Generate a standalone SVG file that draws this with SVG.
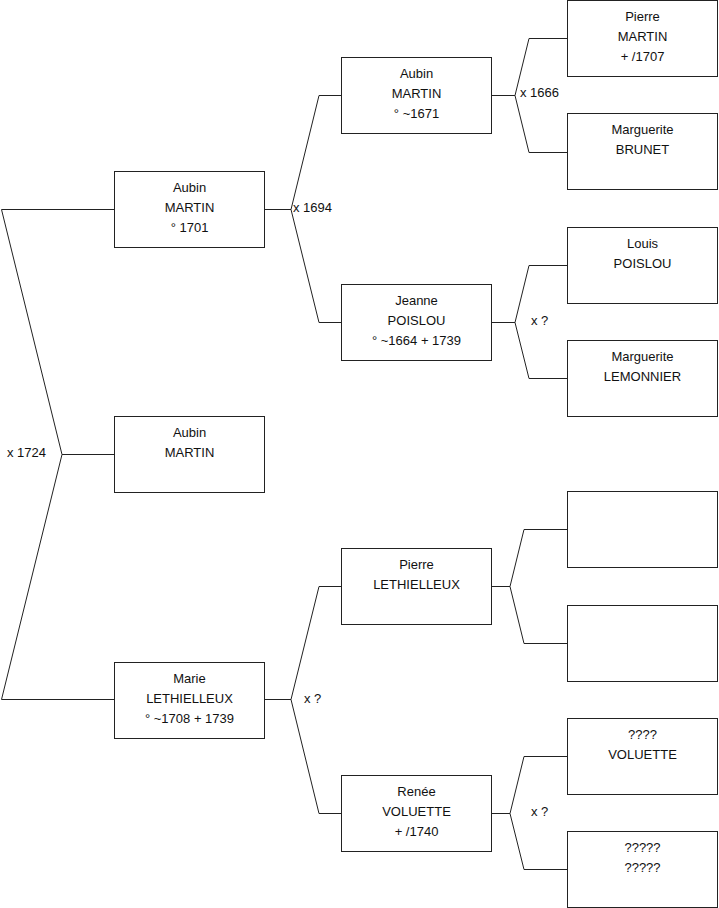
<svg xmlns="http://www.w3.org/2000/svg" width="719" height="908" viewBox="0 0 719 908">
<style>
.box{fill:#fff;stroke:#222;stroke-width:1}
.ln{fill:none;stroke:#222;stroke-width:1}
text{font-family:"Liberation Sans",Arial,sans-serif;font-size:13px;fill:#111}
.c{text-anchor:middle}
</style>
<rect width="719" height="908" fill="#fff"/>
<g id="connectors">
<path class="ln" d="M114,209.5H1.5L62,454.5L1.5,699.5H114M62,454.5H114"/>
<path class="ln" d="M265,209.5H291L319,95.5H341M291,209.5L319,322.5H341"/>
<path class="ln" d="M265,699.5H291L319,586.5H341M291,699.5L319,813.5H341"/>
<path class="ln" d="M492,95.5H515L529,38.5H567M515,95.5L529,152.5H567"/>
<path class="ln" d="M492,322.5H515L529,265.5H567M515,322.5L529,378.5H567"/>
<path class="ln" d="M492,586.5H510L524,529.5H567M510,586.5L524,643.5H567"/>
<path class="ln" d="M492,813.5H510L524,756.5H567M510,813.5L524,869.5H567"/>
<text x="7" y="457">x 1724</text>
<text x="293" y="212">x 1694</text>
<text x="520" y="97">x 1666</text>
<text x="531" y="325">x ?</text>
<text x="304" y="703">x ?</text>
<text x="531" y="816">x ?</text>
</g>
<g id="n1"><rect class="box" x="114.5" y="171.5" width="150" height="76"/>
<text class="c" x="189.5" y="192">Aubin</text><text class="c" x="189.5" y="212">MARTIN</text><text class="c" x="189.5" y="232">° 1701</text></g>
<g id="n0"><rect class="box" x="114.5" y="416.5" width="150" height="76"/>
<text class="c" x="189.5" y="437">Aubin</text><text class="c" x="189.5" y="457">MARTIN</text></g>
<g id="n2"><rect class="box" x="114.5" y="662.5" width="150" height="76"/>
<text class="c" x="189.5" y="683">Marie</text><text class="c" x="189.5" y="703">LETHIELLEUX</text><text class="c" x="189.5" y="723">° ~1708 + 1739</text></g>
<g id="n3"><rect class="box" x="341.5" y="57.5" width="150" height="76"/>
<text class="c" x="416.5" y="78">Aubin</text><text class="c" x="416.5" y="98">MARTIN</text><text class="c" x="416.5" y="118">° ~1671</text></g>
<g id="n4"><rect class="box" x="341.5" y="284.5" width="150" height="76"/>
<text class="c" x="416.5" y="305">Jeanne</text><text class="c" x="416.5" y="325">POISLOU</text><text class="c" x="416.5" y="345">° ~1664 + 1739</text></g>
<g id="n5"><rect class="box" x="341.5" y="548.5" width="150" height="76"/>
<text class="c" x="416.5" y="569">Pierre</text><text class="c" x="416.5" y="589">LETHIELLEUX</text></g>
<g id="n6"><rect class="box" x="341.5" y="775.5" width="150" height="76"/>
<text class="c" x="416.5" y="796">Renée</text><text class="c" x="416.5" y="816">VOLUETTE</text><text class="c" x="416.5" y="836">+ /1740</text></g>
<g id="n7"><rect class="box" x="567.5" y="0.5" width="150" height="76"/>
<text class="c" x="642.5" y="21">Pierre</text><text class="c" x="642.5" y="41">MARTIN</text><text class="c" x="642.5" y="61">+ /1707</text></g>
<g id="n8"><rect class="box" x="567.5" y="113.5" width="150" height="76"/>
<text class="c" x="642.5" y="134">Marguerite</text><text class="c" x="642.5" y="154">BRUNET</text></g>
<g id="n9"><rect class="box" x="567.5" y="227.5" width="150" height="76"/>
<text class="c" x="642.5" y="248">Louis</text><text class="c" x="642.5" y="268">POISLOU</text></g>
<g id="n10"><rect class="box" x="567.5" y="340.5" width="150" height="76"/>
<text class="c" x="642.5" y="361">Marguerite</text><text class="c" x="642.5" y="381">LEMONNIER</text></g>
<g id="n11"><rect class="box" x="567.5" y="491.5" width="150" height="76"/></g>
<g id="n12"><rect class="box" x="567.5" y="605.5" width="150" height="76"/></g>
<g id="n13"><rect class="box" x="567.5" y="718.5" width="150" height="76"/>
<text class="c" x="642.5" y="739">????</text><text class="c" x="642.5" y="759">VOLUETTE</text></g>
<g id="n14"><rect class="box" x="567.5" y="831.5" width="150" height="76"/>
<text class="c" x="642.5" y="852">?????</text><text class="c" x="642.5" y="872">?????</text></g>
</svg>
